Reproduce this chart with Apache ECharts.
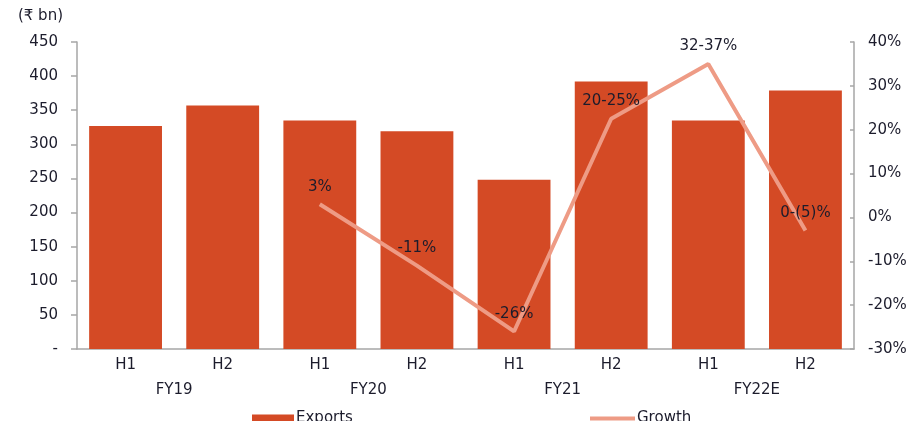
<!DOCTYPE html>
<html>
<head>
<meta charset="utf-8">
<script src="https://cdn.jsdelivr.net/npm/echarts@6/dist/echarts.min.js"></script>
<style>
  html, body { margin: 0; padding: 0; background: #fff; }
  #chart { width: 914px; height: 421px; }
</style>
</head>
<body>
<div id="chart"></div>
<script>
// halves and fiscal years
var halves = ['H1', 'H2', 'H1', 'H2', 'H1', 'H2', 'H1', 'H2'];
var years = ['FY19', 'FY20', 'FY21', 'FY22E'];
// exports, ₹ bn
var exportsData = [327, 357, 335, 319, 248, 392, 335, 379];
// growth yoy, %
var growthData = [null, null, 3, -11, -26, 22.5, 35, -3];
var growthLabels = ['', '', '3%', '-11%', '-26%', '20-25%', '32-37%', '0-(5)%'];

var font = 'DejaVu Sans, Arial, sans-serif';
var fs = 15;
var txt = '#1c1c2c';
var grey = '#a6a6a6';

var chart = echarts.init(document.getElementById('chart'));
var option = {
  animation: false,
  textStyle: { fontFamily: font },
  grid: { left: 77, right: 60, top: 42, bottom: 72 },
  legend: [
    {
      data: ['Exports'], left: 247, top: 406,
      itemWidth: 42, itemHeight: 8, itemGap: 0, icon: 'rect',
      textStyle: { fontSize: fs, color: txt, fontFamily: font, padding: [0, 0, 0, -3] }
    },
    {
      data: ['Growth'], left: 585, top: 406,
      itemWidth: 45, itemHeight: 4, icon: 'rect',
      textStyle: { fontSize: fs, color: txt, fontFamily: font, padding: [0, 0, 0, -3] }
    }
  ],
  xAxis: [
    {
      type: 'category',
      data: halves,
      axisLine: { lineStyle: { color: grey, width: 1.5 } },
      axisTick: { interval: 0, length: 26, lineStyle: { color: grey, width: 1.5 } },
      axisLabel: { interval: 0, margin: 9, fontSize: fs, color: txt, fontFamily: font }
    },
    {
      type: 'category',
      data: years,
      position: 'bottom',
      gridIndex: 0,
      axisLine: { show: false },
      axisTick: { interval: 0, length: 52, lineStyle: { color: grey, width: 1.5 } },
      axisLabel: { interval: 0, margin: 34, fontSize: fs, color: txt, fontFamily: font }
    }
  ],
  yAxis: [
    {
      type: 'value',
      min: 0, max: 450, interval: 50,
      name: '(₹ bn)',
      nameGap: 18,
      nameTextStyle: { align: 'right', fontSize: fs, color: txt, fontFamily: font, padding: [0, 14, 0, 0] },
      axisLine: { show: true, lineStyle: { color: grey, width: 1.5 } },
      axisTick: { show: true, length: 6, lineStyle: { color: grey, width: 1.5 } },
      splitLine: { show: false },
      axisLabel: {
        fontSize: fs, color: txt, margin: 19, fontFamily: font,
        formatter: function (v) { return v === 0 ? '-' : v; }
      }
    },
    {
      type: 'value',
      min: -30, max: 40, interval: 10,
      position: 'right',
      axisLine: { show: true, lineStyle: { color: grey, width: 1.5 } },
      axisTick: { show: true, inside: true, length: 4, lineStyle: { color: grey, width: 1.5 } },
      splitLine: { show: false },
      axisLabel: { fontSize: fs, color: txt, margin: 14, fontFamily: font, formatter: '{value}%' }
    }
  ],
  series: [
    {
      name: 'Exports',
      type: 'bar',
      data: exportsData,
      barCategoryGap: '25%',
      itemStyle: { color: '#d44a25' }
    },
    {
      name: 'Growth',
      type: 'line',
      yAxisIndex: 1,
      data: growthData,
      symbol: 'circle',
      symbolSize: 0.1,
      connectNulls: false,
      itemStyle: { color: '#ee9b85' },
      lineStyle: { color: '#ee9b85', width: 4 },
      label: {
        show: true,
        position: 'top',
        distance: 10,
        fontSize: fs,
        color: txt,
        fontFamily: font,
        formatter: function (p) { return growthLabels[p.dataIndex]; }
      }
    }
  ]
};
chart.setOption(option);
</script>
</body>
</html>
